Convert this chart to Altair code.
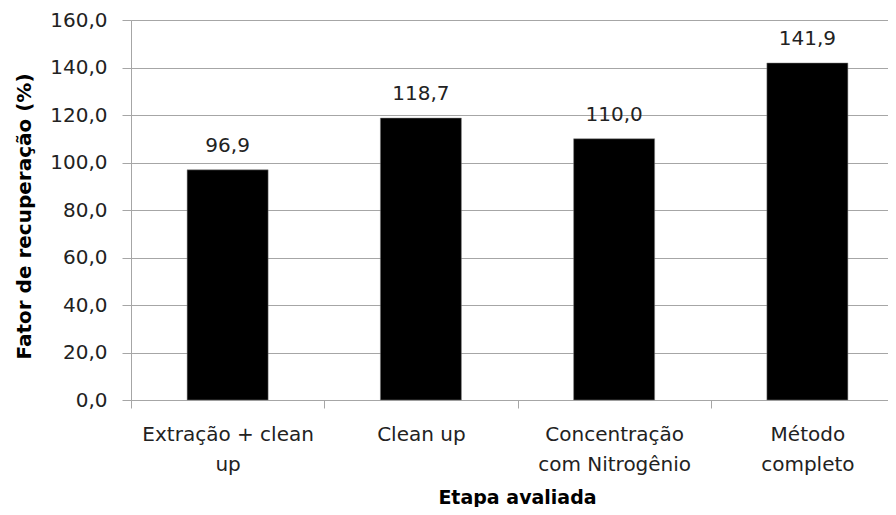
import altair as alt
import pandas as pd

categories = ["Extração + clean up", "Clean up", "Concentração com Nitrogênio", "Método completo"]
label_lines = [["Extração + clean", "up"], ["Clean up"], ["Concentração", "com Nitrogênio"], ["Método", "completo"]]
values = [96.9, 118.7, 110.0, 141.9]

df = pd.DataFrame({"cat": categories, "val": values})

FONT = "DejaVu Sans"
GREY = "#a6a6a6"

lab_map = "{" + ",".join(
    f"'{c}': [{','.join(repr(l) for l in ls)}]" for c, ls in zip(categories, label_lines)
) + "}"

x = alt.X(
    "cat:N",
    sort=categories,
    scale=alt.Scale(paddingInner=0, paddingOuter=0, range=[0, 773]),
    axis=alt.Axis(
        title="Etapa avaliada",
        titleFont=FONT,
        titleFontSize=19,
        titleFontWeight="bold",
        titleColor="#000000",
        titleBaseline="alphabetic",
        titleY=103,
        titleX=386,
        labelFont=FONT,
        labelFontSize=20,
        labelColor="#222222",
        labelAngle=0,
        labelPadding=16,
        labelLineHeight=30,
        labelExpr=lab_map + "[datum.value]",
        tickBand="extent",
        tickSize=8,
        tickColor=GREY,
        domainColor=GREY,
        labelOverlap=False,
    ),
)

bars = alt.Chart(df).mark_bar(color="#000000", size=81, stroke="#808080", strokeWidth=0.5).encode(
    x=x,
    y=alt.Y(
        "val:Q",
        scale=alt.Scale(domain=[0, 160], nice=False),
        axis=alt.Axis(
            title="Fator de recuperação (%)",
            titleFont=FONT,
            titleFontSize=20,
            titleFontWeight="bold",
            titleColor="#000000",
            titleBaseline="alphabetic",
            titleX=-101,
            titleY=196,
            values=[0, 20, 40, 60, 80, 100, 120, 140, 160],
            labelExpr="replace(format(datum.value, '.1f'), '.', ',')",
            labelFont=FONT,
            labelFontSize=20,
            labelColor="#222222",
            labelPadding=15,
            tickSize=9,
            tickColor=GREY,
            domainColor=GREY,
            gridColor=GREY,
            grid=True,
        ),
    ),
)

text = alt.Chart(df).transform_calculate(
    lab="replace(format(datum.val, '.1f'), '.', ',')"
).mark_text(font=FONT, fontSize=20, color="#222222", baseline="alphabetic", dy=-18).encode(
    x=alt.X("cat:N", sort=categories),
    y="val:Q",
    text="lab:N",
)

chart = (
    alt.layer(bars, text)
    .properties(
        width=757,
        height=380,
        autosize=alt.AutoSizeParams(type="none"),
        padding={"left": 123, "top": 12, "right": 0, "bottom": 107},
    )
    .configure_view(stroke=None)
    .configure(background="#ffffff")
)

chart.save("out.html", embed_options={"renderer": "svg", "actions": False})
